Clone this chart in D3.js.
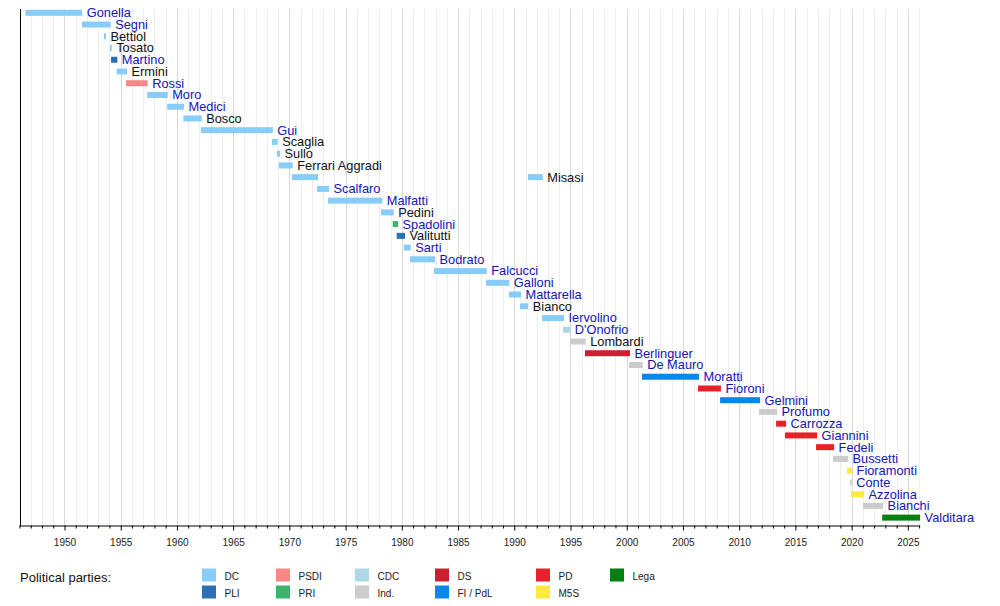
<!DOCTYPE html>
<html>
<head>
<meta charset="utf-8">
<script src="https://cdn.jsdelivr.net/npm/d3@7"></script>
<style>
  html, body { margin: 0; padding: 0; background: #fff; }
  svg { display: block; font-family: "Liberation Sans", Arial, Helvetica, sans-serif; }
</style>
</head>
<body>
<svg id="chart" width="1000" height="606"></svg>
<script>
// ---- Data ----
const ministers = ["Gonella","Segni","Bettiol","Tosato","Martino","Ermini","Rossi","Moro","Medici","Bosco",
  "Gui","Scaglia","Sullo","Ferrari Aggradi","Misasi","Scalfaro","Malfatti","Pedini","Spadolini","Valitutti",
  "Sarti","Bodrato","Falcucci","Galloni","Mattarella","Bianco","Iervolino","D'Onofrio","Lombardi","Berlinguer",
  "De Mauro","Moratti","Fioroni","Gelmini","Profumo","Carrozza","Giannini","Fedeli","Bussetti","Fioramonti",
  "Conte","Azzolina","Bianchi","Valditara"];

// linked (blue) labels
const linked = ["Gonella","Segni","Martino","Rossi","Moro","Medici","Gui","Scalfaro","Malfatti","Spadolini",
  "Sarti","Bodrato","Falcucci","Galloni","Mattarella","Iervolino","D'Onofrio","Berlinguer","De Mauro","Moratti",
  "Fioroni","Gelmini","Profumo","Carrozza","Giannini","Fedeli","Bussetti","Fioramonti","Conte","Azzolina",
  "Bianchi","Valditara"];

// terms: minister, start year, end year, party
const termMinister = ["Gonella","Segni","Bettiol","Tosato","Martino","Ermini","Rossi","Moro","Medici","Bosco",
  "Gui","Scaglia","Sullo","Ferrari Aggradi","Misasi","Scalfaro","Malfatti","Pedini","Spadolini","Valitutti",
  "Sarti","Bodrato","Falcucci","Galloni","Mattarella","Bianco","Misasi","Iervolino","D'Onofrio","Lombardi",
  "Berlinguer","De Mauro","Moratti","Fioroni","Gelmini","Profumo","Carrozza","Giannini","Fedeli","Bussetti",
  "Fioramonti","Conte","Azzolina","Bianchi","Valditara"];
const termStart = [1946.53,1951.56,1953.51,1954.05,1954.14,1954.64,1955.47,1957.36,1959.14,1960.57,
  1962.14,1968.45,1968.90,1969.06,1970.23,1972.46,1973.43,1978.15,1979.19,1979.54,
  1980.19,1980.73,1982.86,1987.49,1989.53,1990.51,1991.22,1992.47,1994.34,1994.96,
  1996.29,2000.20,2001.36,2006.34,2008.30,2011.77,2013.28,2014.08,2016.84,2018.35,
  2019.59,2019.86,2019.95,2021.01,2022.72];
const termEnd = [1951.58,1954.11,1953.69,1954.20,1954.70,1955.56,1957.40,1959.18,1960.63,1962.20,
  1968.52,1968.96,1969.17,1970.30,1972.55,1973.52,1978.26,1979.28,1979.66,1980.28,
  1980.79,1982.95,1987.55,1989.56,1990.60,1991.25,1992.53,1994.42,1994.98,1996.35,
  2000.29,2001.42,2006.43,2008.38,2011.86,2013.37,2014.17,2016.93,2018.44,2019.68,
  2020.04,2020.01,2021.10,2022.80,2026.09];
const termParty = ["DC","DC","DC","DC","PLI","DC","PSDI","DC","DC","DC",
  "DC","DC","DC","DC","DC","DC","DC","DC","PRI","PLI",
  "DC","DC","DC","DC","DC","DC","DC","DC","CDC","Ind.",
  "DS","Ind.","FI / PdL","PD","FI / PdL","Ind.","PD","PD","PD","Ind.",
  "M5S","Ind.","M5S","Ind.","Lega"];

const parties = ["DC","PLI","PSDI","PRI","CDC","Ind.","DS","FI / PdL","PD","M5S","Lega"];
const partyColors = ["#87CDF7","#2C6EB8","#F88787","#3CB371","#ADD8E6","#CCCCCC","#CC2030","#0A86E6","#E8202C","#FFEB3B","#00800F"];

const xDomain = [1946, 2026.09];
const tickYears = d3.range(1950, 2026, 5);
const minorYears = d3.range(1946, 2027, 1);

// ---- Layout ----
const svg = d3.select("#chart");
const plotLeft = 19.5, plotRight = 920.1, plotTop = 9, axisY = 525.5;

const x = d3.scaleLinear().domain(xDomain).range([plotLeft, plotRight]);
const y = d3.scalePoint().domain(ministers).range([12.8, 517.6]);
const color = d3.scaleOrdinal().domain(parties).range(partyColors);

// grid
const grid = svg.append("g");
grid.selectAll("line.minor").data(minorYears.filter(v => v % 5 !== 0 && v <= xDomain[1]))
  .join("line")
  .attr("x1", d => Math.round(x(d)) + 0.5).attr("x2", d => Math.round(x(d)) + 0.5)
  .attr("y1", plotTop).attr("y2", axisY)
  .attr("stroke", "#eeeeee").attr("stroke-width", 1);
grid.selectAll("line.major").data(tickYears)
  .join("line")
  .attr("x1", d => Math.round(x(d)) + 0.5).attr("x2", d => Math.round(x(d)) + 0.5)
  .attr("y1", plotTop).attr("y2", axisY)
  .attr("stroke", "#d8d8d8").attr("stroke-width", 1);

// left axis line
svg.append("line")
  .attr("x1", 20.5).attr("x2", 20.5).attr("y1", plotTop).attr("y2", axisY)
  .attr("stroke", "#000").attr("stroke-width", 1);

// bars
const terms = termMinister.map((m, i) => ({m, s: termStart[i], e: termEnd[i], p: termParty[i]}));
const barH = 6;
svg.append("g").selectAll("rect").data(terms).join("rect")
  .attr("x", d => x(d.s))
  .attr("width", d => Math.max(1.5, x(d.e) - x(d.s)))
  .attr("y", d => y(d.m) - barH / 2)
  .attr("height", barH)
  .attr("fill", d => color(d.p));

// labels after the last bar of each row
const lastEnd = {};
terms.forEach(t => { if (!(t.m in lastEnd) || t.e > lastEnd[t.m]) lastEnd[t.m] = t.e; });
svg.append("g").selectAll("text").data(ministers).join("text")
  .attr("x", d => x(lastEnd[d]) + 4.5)
  .attr("y", d => y(d) + 4.4)
  .attr("font-size", "12.8px")
  .attr("fill", d => linked.includes(d) ? "#1414B8" : "#111")
  .text(d => d);

// x axis
const axis = d3.axisBottom(x).tickValues(tickYears).tickFormat(d3.format("d")).tickSize(5).tickSizeOuter(0);
const gx = svg.append("g").attr("transform", `translate(0,${axisY})`).call(axis);
gx.select(".domain").attr("d", `M${plotLeft},0.5H${plotRight}`).attr("stroke", "#000");
gx.selectAll(".tick line").attr("stroke", "#000");
gx.selectAll(".tick text").attr("font-size", "10px").attr("fill", "#222")
  .attr("font-family", "'Liberation Sans', Arial, sans-serif").attr("dy", "1.25em");
const minorAxis = d3.axisBottom(x).tickValues(minorYears.filter(v => v % 5 !== 0 && v <= xDomain[1])).tickFormat("").tickSize(3).tickSizeOuter(0);
const gm = svg.append("g").attr("transform", `translate(0,${axisY})`).call(minorAxis);
gm.select(".domain").remove();
gm.selectAll(".tick line").attr("stroke", "#000");

// legend
svg.append("text").attr("x", 20).attr("y", 581.5).attr("font-size", "13px").attr("fill", "#111")
  .text("Political parties:");
const legendCols = [202, 276, 355, 435, 536, 610];
const legendItems = parties.map((p, i) => ({p, col: Math.floor(i / 2), row: i % 2}));
const lg = svg.append("g").selectAll("g").data(legendItems).join("g")
  .attr("transform", d => `translate(${legendCols[d.col]},${568.5 + d.row * 17})`);
lg.append("rect").attr("width", 14).attr("height", 13).attr("fill", d => color(d.p));
lg.append("text").attr("x", 22.5).attr("y", 11).attr("font-size", "10px").attr("fill", "#222")
  .text(d => d.p);
</script>
</body>
</html>
